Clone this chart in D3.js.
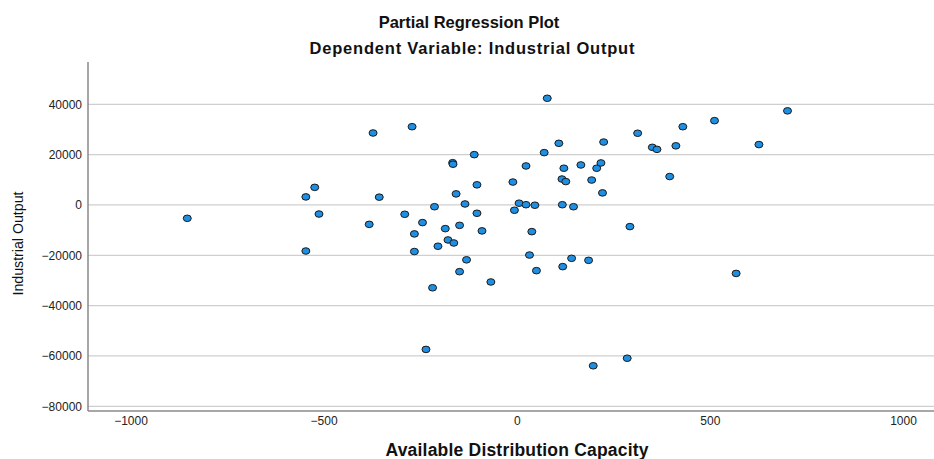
<!DOCTYPE html>
<html>
<head>
<meta charset="utf-8">
<script src="https://cdn.jsdelivr.net/npm/d3@7"></script>
<style>
  html, body { margin: 0; padding: 0; background: #fff; }
  svg { display: block; }
</style>
</head>
<body>
<svg id="chart" width="934" height="459"></svg>
<script>
const titleMain = "Partial Regression Plot";
const titleSub = "Dependent Variable: Industrial Output";
const xLabel = "Available Distribution Capacity";
const yLabel = "Industrial Output";

const xTicks = [-1000, -500, 0, 500, 1000];
const yTicks = [-80000, -60000, -40000, -20000, 0, 20000, 40000];

const xValues = [
  -853, -546, -523, -512, -546, -372, -271, -356, -382, -290,
  -265, -244, -265, -213, -185, -204, -178, -163, -166, -165,
  -157, -148, -134, -110, -103, -103, -90, -130, -148, -218,
  -67, -10, -6, 6, 24, 24, 47, 39, 33, 71,
  79, 109, 122, 117, 127, 118, 147, 166, 194, 207,
  218, 225, 222, 51, 119, 142, 186, -235, 198, 313,
  430, 512, 701, 351, 363, 412, 627, 396, 293, 568,
  286
];
const yValues = [
  -5300, 3200, 7000, -3600, -18300, 28600, 31100, 3100, -7700, -3700,
  -11500, -7000, -18500, -700, -9400, -16400, -13900, -15100, 16800, 16200,
  4400, -8100, 400, 20000, 8000, -3300, -10300, -21800, -26500, -32900,
  -30600, 9100, -2100, 700, 15500, 100, -100, -10600, -19900, 20800,
  42400, 24500, 14600, 10300, 9300, 100, -700, 15900, 9900, 14600,
  16700, 25000, 4800, -26100, -24500, -21200, -22000, -57400, -63900, 28500,
  31100, 33500, 37400, 22900, 22100, 23500, 24000, 11300, -8600, -27200,
  -60900
];

const svg = d3.select("#chart");
const plotLeft = 88, plotRight = 934, plotTop = 62, plotBottom = 411;
const font = "Arial, 'Liberation Sans', sans-serif";

const x = d3.scaleLinear().domain([-1000, 1000]).range([130.5, 903]);
const y = d3.scaleLinear().domain([-80000, 40000]).range([406.3, 104.3]);

// gridlines
svg.append("g").selectAll("line").data(yTicks).join("line")
  .attr("x1", plotLeft).attr("x2", plotRight)
  .attr("y1", d => y(d)).attr("y2", d => y(d))
  .attr("stroke", "#cfcfcf").attr("stroke-width", 1.3);

// axis lines
svg.append("line").attr("x1", plotLeft).attr("x2", plotLeft)
  .attr("y1", plotTop).attr("y2", plotBottom)
  .attr("stroke", "#8a8a8a").attr("stroke-width", 1.5);
svg.append("line").attr("x1", plotLeft).attr("x2", plotRight)
  .attr("y1", plotBottom).attr("y2", plotBottom)
  .attr("stroke", "#8a8a8a").attr("stroke-width", 1.5);

// y axis ticks
const yAxis = d3.axisLeft(y).tickValues(yTicks).tickSize(0).tickPadding(0).tickFormat(d3.format("d"));
const gy = svg.append("g").attr("transform", `translate(${plotLeft - 6},0)`).call(yAxis);
gy.select(".domain").remove();
gy.selectAll("text").attr("font-family", font).attr("font-size", 12).attr("fill", "#222");

// x axis ticks
const xAxis = d3.axisBottom(x).tickValues(xTicks).tickSize(0).tickPadding(0).tickFormat(d3.format("d"));
const gx = svg.append("g").attr("transform", `translate(0,${plotBottom + 5})`).call(xAxis);
gx.select(".domain").remove();
gx.selectAll("text").attr("font-family", font).attr("font-size", 12).attr("fill", "#222");

// points
const pts = xValues.map((v, i) => ({ x: v, y: yValues[i] }));
svg.append("g").selectAll("ellipse").data(pts).join("ellipse")
  .attr("cx", d => x(d.x)).attr("cy", d => y(d.y))
  .attr("rx", 4).attr("ry", 3.3)
  .attr("fill", "#1e8fe3").attr("stroke", "#1a1a1a").attr("stroke-width", 1);

// titles
svg.append("text").attr("x", 469).attr("y", 28).attr("text-anchor", "middle")
  .attr("font-family", font).attr("font-weight", "bold")
  .attr("font-size", 16.5).attr("fill", "#111").text(titleMain);
svg.append("text").attr("x", 472).attr("y", 54).attr("text-anchor", "middle")
  .attr("font-family", font).attr("font-weight", "bold")
  .attr("font-size", 16.5).attr("fill", "#111")
  .attr("textLength", 325).attr("lengthAdjust", "spacing").text(titleSub);

// axis labels
svg.append("text").attr("x", 517).attr("y", 456).attr("text-anchor", "middle")
  .attr("font-family", font).attr("font-weight", "bold")
  .attr("font-size", 17.5).attr("fill", "#111")
  .attr("textLength", 263).attr("lengthAdjust", "spacing").text(xLabel);
svg.append("text").attr("transform", "translate(23,243.5) rotate(-90)").attr("text-anchor", "middle")
  .attr("font-family", font)
  .attr("font-size", 15).attr("fill", "#111")
  .attr("textLength", 104).attr("lengthAdjust", "spacingAndGlyphs").text(yLabel);
</script>
</body>
</html>
